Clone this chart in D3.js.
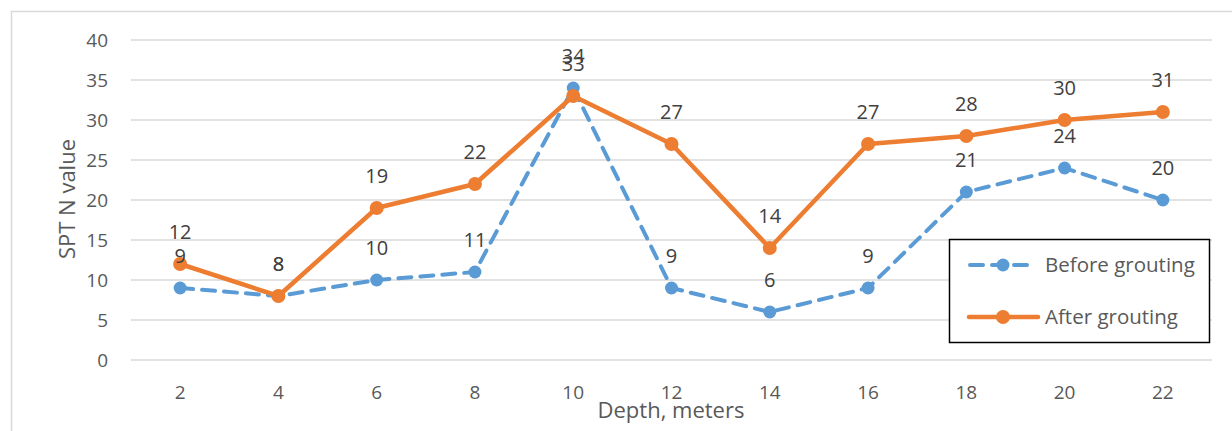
<!DOCTYPE html>
<html><head><meta charset="utf-8">
<script src="https://cdn.jsdelivr.net/npm/d3@7"></script>
<style>body{margin:0;background:#fff;}svg{display:block;}</style>
</head><body>
<svg id="c" width="1232" height="431"></svg>
<script>
const depths = [2,4,6,8,10,12,14,16,18,20,22];
const before = [9,8,10,11,34,9,6,9,21,24,20];
const after = [12,8,19,22,33,27,14,27,28,30,31];
const yTicks = [0,5,10,15,20,25,30,35,40];
const seriesNames = ["Before grouting","After grouting"];

const svg = d3.select("#c");
const font = "'Open Sans', 'Liberation Sans', sans-serif";
// chart border
svg.append("rect").attr("x",11.5).attr("y",11.5).attr("width",1240).attr("height",440)
  .attr("fill","#fff").attr("stroke","#d9d9d9").attr("stroke-width",1.5);

const x = d3.scaleBand().domain(depths).range([131,1212]);
const y = d3.scaleLinear().domain([0,40]).range([360,40]);

// gridlines
svg.append("g").selectAll("line").data(yTicks).join("line")
  .attr("x1",131).attr("x2",1212).attr("y1",d=>y(d)).attr("y2",d=>y(d))
  .attr("stroke","#d9d9d9").attr("stroke-width",1.3);

// y axis
const ya = svg.append("g").attr("transform","translate(131,0)")
  .call(d3.axisLeft(y).tickValues(yTicks).tickSize(0).tickPadding(23));
ya.select(".domain").remove();
ya.selectAll("text").attr("font-family",font).attr("font-size",19).attr("fill","#595959");

// x axis
const xa = svg.append("g").attr("transform","translate(0,360)")
  .call(d3.axisBottom(x).tickSize(0).tickPadding(26));
xa.select(".domain").remove();
xa.selectAll("text").attr("font-family",font).attr("font-size",19).attr("fill","#595959");

// axis titles
svg.append("text").attr("x",671).attr("y",418).attr("text-anchor","middle")
  .attr("font-family",font).attr("font-size",22).attr("fill","#595959").text("Depth, meters");
svg.append("text").attr("transform","translate(75,199) rotate(-90)").attr("text-anchor","middle")
  .attr("font-family",font).attr("font-size",22).attr("fill","#595959").text("SPT N value");

const cx = d => x(d) + x.bandwidth()/2;
const line = d3.line().x((d,i)=>cx(depths[i])).y(d=>y(d));

// before series
svg.append("path").datum(before).attr("d",line).attr("fill","none")
  .attr("stroke","#5b9bd5").attr("stroke-width",4).attr("stroke-dasharray","13,9").attr("stroke-linecap","round");
svg.append("g").selectAll("circle").data(before).join("circle")
  .attr("cx",(d,i)=>cx(depths[i])).attr("cy",d=>y(d)).attr("r",6.5).attr("fill","#5b9bd5");

// after series
svg.append("path").datum(after).attr("d",line).attr("fill","none")
  .attr("stroke","#ed7d31").attr("stroke-width",4.5).attr("stroke-linejoin","round");
svg.append("g").selectAll("circle").data(after).join("circle")
  .attr("cx",(d,i)=>cx(depths[i])).attr("cy",d=>y(d)).attr("r",7).attr("fill","#ed7d31");

// labels
function labels(data){
  svg.append("g").selectAll("text").data(data).join("text")
    .attr("x",(d,i)=>cx(depths[i])).attr("y",d=>y(d)-25.5)
    .attr("text-anchor","middle").attr("font-family",font).attr("font-size",20).attr("fill","#404040")
    .text(d=>d);
}
labels(before);
labels(after);

// legend
const lg = svg.append("g");
lg.append("rect").attr("x",949.5).attr("y",239.5).attr("width",260).attr("height",103)
  .attr("fill","#fff").attr("stroke","#000").attr("stroke-width",1.5);
const ly = [265, 317];
lg.append("line").attr("x1",970).attr("x2",1036).attr("y1",ly[0]).attr("y2",ly[0])
  .attr("stroke","#5b9bd5").attr("stroke-width",4).attr("stroke-dasharray","13,9").attr("stroke-linecap","round");
lg.append("circle").attr("cx",1003).attr("cy",ly[0]).attr("r",6.5).attr("fill","#5b9bd5");
lg.append("line").attr("x1",969).attr("x2",1038).attr("y1",ly[1]).attr("y2",ly[1])
  .attr("stroke","#ed7d31").attr("stroke-width",4.5).attr("stroke-linecap","round");
lg.append("circle").attr("cx",1003).attr("cy",ly[1]).attr("r",7).attr("fill","#ed7d31");
lg.selectAll("text.lt").data(seriesNames).join("text").attr("class","lt")
  .attr("x",1045).attr("y",(d,i)=>ly[i]+7).attr("font-family",font).attr("font-size",20.5).attr("fill","#595959")
  .text(d=>d);
</script>
</body></html>
